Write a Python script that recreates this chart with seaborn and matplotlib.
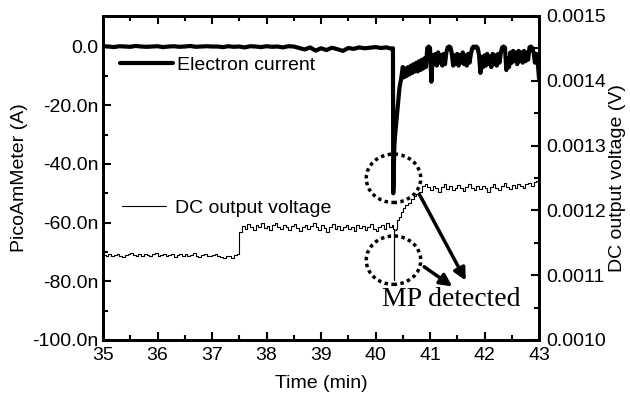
import numpy as np
import pandas as pd
import matplotlib
matplotlib.use("Agg")
import matplotlib.pyplot as plt
import seaborn as sns
from matplotlib.patches import Ellipse
from matplotlib.ticker import AutoMinorLocator

# Electron current (nA) - before the hit, sampled every 0.1 min (35.0 - 40.3)
cur_flat = [0.1, 0.0, -0.2, 0.1, 0.0, -0.1, 0.2, 0.0, -0.1, 0.0, 0.1, -0.2, 0.0, 0.1, -0.1, 0.0, 0.2, -0.1, 0.0, 0.1, 0.0,
            0.0, -0.2, 0.1, -0.1, 0.0, -0.3, 0.1, 0.0, -0.2, 0.1, -0.1, 0.0, -0.3, 0.1, 0.0,
            -0.5, -1.0, -0.3, -1.4, -0.6, -1.2, -0.4, -0.9, -1.5, -0.5, -0.8, -0.3, -0.6, -0.4, -0.2, -0.5, -0.3, -0.8]
# the MP hit and the fast recovery
cur_time_hit = [40.32, 40.325, 40.33, 40.345, 40.36, 40.38, 40.40, 40.42, 40.44, 40.47]
cur_hit = [-0.6, -50.0, -48.0, -34.0, -30.0, -26.0, -22.0, -18.0, -14.0, -11.0]
# noisy tail, sampled every 0.025 min (40.5 - 43.0)
cur_tail = [-7.0, -10.5, -7.5, -10.0, -7.0, -9.5, -6.5, -9.0, -6.0, -8.5,
            -5.5, -8.5, -5.0, -8.0, -4.5, -7.5, -4.0, -7.0, -0.5, 0.0,
            -0.5, -12.0, -3.0, -6.0, -2.5, -6.5, -2.0, -5.5, -3.0, -6.5,
            -2.5, -6.0, -2.0, -0.3, 0.0, -0.3, -2.5, -6.5, -3.0, -6.0,
            -2.5, -6.5, -3.0, -5.5, -2.0, -6.0, -3.0, -6.5, -2.5, -5.5,
            -2.5, -0.5, 0.0, -0.4, 0.0, -0.5, -3.0, -9.0, -3.5, -7.0,
            -3.0, -6.5, -2.5, -6.0, -3.5, -7.0, -2.5, -6.0, -3.0, -6.5,
            -2.5, -5.5, -2.0, -0.3, 0.0, -0.4, -8.0, -4.0, -7.0, -2.0,
            -5.5, -1.5, -5.0, -2.0, -6.0, -1.5, -5.0, -2.0, -5.5, -1.5,
            -5.0, -2.0, -4.5, -0.3, 0.0, -0.5, -2.0, -5.5, -2.5, -5.0,
            -11.0]

# DC output voltage (mV), sampled every 0.05 min
volt_low = [1.131, 1.130, 1.132, 1.129, 1.131, 1.133, 1.130, 1.128, 1.131, 1.132,
            1.134, 1.131, 1.129, 1.132, 1.130, 1.133, 1.131, 1.129, 1.132, 1.134,
            1.130, 1.131, 1.133, 1.129, 1.131, 1.132, 1.128, 1.131, 1.133, 1.130,
            1.132, 1.129, 1.131, 1.134, 1.130, 1.128, 1.131, 1.132, 1.130, 1.129,
            1.131, 1.133, 1.130, 1.128, 1.127, 1.130, 1.129, 1.127, 1.131, 1.132]
volt_mid = [1.166, 1.176, 1.172, 1.179, 1.174, 1.170, 1.178, 1.175, 1.181, 1.173,
            1.176, 1.169, 1.177, 1.180, 1.174, 1.172, 1.178, 1.175, 1.170, 1.176,
            1.179, 1.173, 1.168, 1.175, 1.178, 1.172, 1.176, 1.181, 1.174, 1.170,
            1.177, 1.173, 1.166, 1.175, 1.179, 1.172, 1.176, 1.170, 1.174, 1.178,
            1.171, 1.175, 1.168, 1.177, 1.173, 1.176, 1.170, 1.175, 1.179, 1.172,
            1.168, 1.174, 1.177, 1.171, 1.180, 1.175, 1.178]
volt_time_hit = [40.32, 40.33, 40.34, 40.37, 40.40, 40.43, 40.47, 40.51, 40.55, 40.60, 40.65, 40.70, 40.75, 40.80, 40.85]
volt_hit = [1.172, 1.093, 1.170, 1.172, 1.185, 1.190, 1.198, 1.203, 1.208, 1.212, 1.218, 1.222, 1.226, 1.228, 1.238]
volt_high = [1.240, 1.236, 1.232, 1.238, 1.234, 1.229, 1.236, 1.240, 1.233, 1.237,
             1.231, 1.235, 1.239, 1.234, 1.230, 1.236, 1.241, 1.235, 1.232, 1.237,
             1.233, 1.238, 1.234, 1.229, 1.236, 1.240, 1.235, 1.232, 1.238, 1.242,
             1.236, 1.233, 1.239, 1.235, 1.241, 1.237, 1.234, 1.240, 1.243, 1.238,
             1.244, 1.246]
volt_end = [1.125]

cur_df = pd.DataFrame({
    'time': np.concatenate([np.linspace(35.0, 40.3, 54), cur_time_hit, np.linspace(40.5, 43.0, 101)]),
    'current': np.concatenate([cur_flat, cur_hit, cur_tail]),
})
volt_df = pd.DataFrame({
    'time': np.concatenate([np.linspace(35.0, 37.45, 50), np.linspace(37.5, 40.3, 57),
                            volt_time_hit, np.linspace(40.9, 42.95, 42), [43.0]]),
    'voltage': np.concatenate([volt_low, volt_mid, volt_hit, volt_high, volt_end]) * 1e-3,
})

sns.set_style("ticks")
plt.rcParams['font.family'] = ['Liberation Sans', 'DejaVu Sans']
plt.rcParams['font.size'] = 14
for key in ('text.color', 'axes.labelcolor', 'xtick.color', 'ytick.color', 'axes.edgecolor'):
    plt.rcParams[key] = 'black'

fig = plt.figure(figsize=(6.3, 4.05), dpi=100)
ax = fig.add_axes([0.1635, 0.1605, 0.6921, 0.8])
ax2 = ax.twinx()

sns.lineplot(data=cur_df, x='time', y='current', estimator=None, sort=False, ax=ax,
             color='black', lw=3.0, label='Electron current')
sns.lineplot(data=volt_df, x='time', y='voltage', estimator=None, sort=False, ax=ax2,
             color='black', lw=0.8, drawstyle='steps-post', label='DC output voltage')

ax.set_xlim(35, 43)
ax.set_ylim(-100, 10.4)
ax2.set_ylim(0.0010, 0.0015)

ax.set_xticks(range(35, 44))
ax.set_yticks([0, -20, -40, -60, -80, -100])
ax.set_yticklabels(['0.0', '-20.0n', '-40.0n', '-60.0n', '-80.0n', '-100.0n'])
ax2.set_yticks([0.0010, 0.0011, 0.0012, 0.0013, 0.0014, 0.0015])
ax2.set_yticklabels(['0.0010', '0.0011', '0.0012', '0.0013', '0.0014', '0.0015'])
for a in (ax, ax2):
    a.xaxis.set_minor_locator(AutoMinorLocator(2))
    a.yaxis.set_minor_locator(AutoMinorLocator(2))

ax.tick_params(which='both', direction='in', top=True, width=1.5, labelsize=14)
ax.tick_params(which='major', length=6)
ax.tick_params(which='minor', length=3.5)
ax.tick_params(axis='y', pad=3)
ax.tick_params(axis='x', pad=5)
ax2.tick_params(which='both', direction='in', width=1.5, labelsize=14, pad=5)
ax2.tick_params(which='major', length=6)
ax2.tick_params(which='minor', length=3.5)
for a in (ax, ax2):
    for s in a.spines.values():
        s.set_linewidth(2)
        s.set_visible(True)

ax.set_xlabel('Time (min)', fontsize=14, labelpad=8)
ax.set_ylabel('PicoAmMeter (A)', fontsize=14, labelpad=3)
ax2.set_ylabel('DC output voltage (V)', fontsize=14, labelpad=2)

ax.legend(loc='center left', bbox_to_anchor=(0.039, 0.849), frameon=False, borderpad=0,
          borderaxespad=0, handlelength=2.7, handletextpad=0.25, fontsize=14)
ax2.legend(loc='center left', bbox_to_anchor=(0.043, 0.407), frameon=False, borderpad=0,
           borderaxespad=0, handlelength=2.3, handletextpad=0.45, fontsize=14)

# dotted circles around the MP signature
for cy in (-44.9, -72.8):
    ax.add_patch(Ellipse((40.33, cy), width=1.0, height=16.5, fill=False, color='black',
                         lw=2.5, linestyle=(0, (1, 1)), zorder=5))
ax.annotate('', xy=(41.68, -80.6), xytext=(40.78, -49.5),
            arrowprops=dict(arrowstyle='-|>', lw=2.5, color='black', mutation_scale=18))
ax.annotate('', xy=(41.45, -82.3), xytext=(40.85, -74.5),
            arrowprops=dict(arrowstyle='-|>', lw=2.5, color='black', mutation_scale=18))
ax.text(40.12, -88.4, 'MP detected', fontsize=20, family=['Liberation Serif', 'DejaVu Serif'],
        ha='left', va='baseline')

fig.savefig('out.png', dpi=100)
